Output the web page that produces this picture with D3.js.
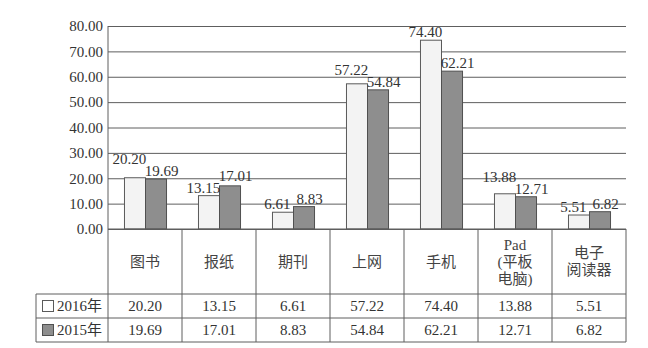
<!DOCTYPE html>
<html>
<head>
<meta charset="utf-8">
<script src="https://cdn.jsdelivr.net/npm/d3@7"></script>
<style>
  body { margin: 0; background: #fff; }
  text { font-family: "Liberation Serif", "Noto Sans CJK SC", serif; }
</style>
</head>
<body>
<div id="chart"></div>
<script>
// data
const categories = ["图书", "报纸", "期刊", "上网", "手机", "Pad\n(平板\n电脑)", "电子\n阅读器"];
const seriesNames = ["2016年", "2015年"];
const values2016 = [20.20, 13.15, 6.61, 57.22, 74.40, 13.88, 5.51];
const values2015 = [19.69, 17.01, 8.83, 54.84, 62.21, 12.71, 6.82];
const yTicks = [0, 10, 20, 30, 40, 50, 60, 70, 80];

const W = 648, H = 348;
const plotLeft = 108, plotRight = 626, plotTop = 26, plotBottom = 229;
const tableLeft = 36, catRowH = 65, rowH = 24;
const fills = ["#f3f3f3", "#8e8e8e"];
const strokes = ["#5a5a5a", "#505050"];
const lineCol = "#5e5e5e";
const textCol = "#333";
const fs = 15;

const svg = d3.select("#chart").append("svg")
  .attr("width", W).attr("height", H);

const x = d3.scaleBand().domain(categories).range([plotLeft, plotRight]);
const x1 = d3.scaleBand().domain(seriesNames).range([0, x.bandwidth()])
  .paddingInner(0).paddingOuter(0.76);
const y = d3.scaleLinear().domain([0, 80]).range([plotBottom, plotTop]);

// grid lines
svg.append("g")
  .attr("transform", "translate(" + plotLeft + ",0)")
  .call(d3.axisLeft(y).tickValues(yTicks).tickSize(-(plotRight - plotLeft)).tickFormat(""))
  .call(g => g.select(".domain").remove())
  .selectAll("line").attr("stroke", lineCol).attr("stroke-width", 1);

// y labels
svg.append("g")
  .attr("transform", "translate(" + plotLeft + ",0)")
  .call(d3.axisLeft(y).tickValues(yTicks).tickSize(0).tickPadding(5).tickFormat(d3.format(".2f")))
  .call(g => g.select(".domain").remove())
  .selectAll("text")
    .attr("font-size", fs).attr("fill", textCol)
    .style("font-family", "Liberation Serif");

const data = categories.map((c, i) => ({ cat: c, vals: [values2016[i], values2015[i]] }));

// bars
const groups = svg.append("g").selectAll("g").data(data).join("g")
  .attr("transform", d => "translate(" + x(d.cat) + ",0)");

groups.selectAll("rect")
  .data(d => d.vals.map((v, k) => ({ key: seriesNames[k], k: k, v: v })))
  .join("rect")
    .attr("x", d => x1(d.key) + 0.5)
    .attr("y", d => y(d.v))
    .attr("width", x1.bandwidth())
    .attr("height", d => plotBottom - y(d.v))
    .attr("fill", d => fills[d.k])
    .attr("stroke", d => strokes[d.k])
    .attr("stroke-width", 1);

// value labels; when the two collide the taller bar's label goes up
const fmt = d3.format(".2f");
data.forEach(d => {
  const gx = x(d.cat);
  const cx0 = gx + x1(seriesNames[0]) + x1.bandwidth() / 2 - 5;
  const cx1 = gx + x1(seriesNames[1]) + x1.bandwidth() / 2 + 6;
  const w0 = fmt(d.vals[0]).length * fs * 0.45;
  const w1 = fmt(d.vals[1]).length * fs * 0.45;
  let y0 = y(d.vals[0]) - 3;
  let y1 = y(d.vals[1]) - 3;
  const overlapX = (cx0 + w0 / 2) > (cx1 - w1 / 2);
  if (overlapX && Math.abs(y0 - y1) < 12) {
    if (d.vals[0] >= d.vals[1]) y0 = Math.min(y0, y1 - 12);
    else y1 = Math.min(y1, y0 - 12);
  }
  svg.append("text").attr("x", cx0).attr("y", y0)
    .attr("text-anchor", "middle").attr("font-size", fs).attr("fill", textCol)
    .text(fmt(d.vals[0]));
  svg.append("text").attr("x", cx1).attr("y", y1)
    .attr("text-anchor", "middle").attr("font-size", fs).attr("fill", textCol)
    .text(fmt(d.vals[1]));
});

// data table
const r0 = plotBottom + catRowH, r1 = r0 + rowH, r2 = r1 + rowH;
const lines = svg.append("g").attr("stroke", lineCol).attr("stroke-width", 1);
lines.append("line").attr("x1", plotLeft).attr("x2", plotRight).attr("y1", plotBottom).attr("y2", plotBottom);
[r0, r1, r2].forEach(yy => lines.append("line")
  .attr("x1", tableLeft).attr("x2", plotRight).attr("y1", yy).attr("y2", yy));
lines.append("line").attr("x1", tableLeft).attr("x2", tableLeft).attr("y1", r0).attr("y2", r2);
lines.append("line").attr("x1", plotLeft).attr("x2", plotLeft).attr("y1", plotTop).attr("y2", r2);
categories.forEach(c => lines.append("line")
  .attr("x1", x(c) + x.bandwidth()).attr("x2", x(c) + x.bandwidth())
  .attr("y1", plotBottom).attr("y2", r2));

// category names
categories.forEach(c => {
  const parts = c.split("\n");
  const lh = 17;
  const cy = (plotBottom + r0) / 2 - (parts.length - 1) * lh / 2;
  const t = svg.append("text")
    .attr("x", x(c) + x.bandwidth() / 2)
    .attr("text-anchor", "middle").attr("font-size", fs).attr("fill", "#444");
  parts.forEach((p, i) => t.append("tspan")
    .attr("x", x(c) + x.bandwidth() / 2)
    .attr("y", cy + i * lh).attr("dy", "0.35em").text(p));
});

// series rows
[values2016, values2015].forEach((vals, k) => {
  const yy = r0 + k * rowH + rowH / 2;
  svg.append("rect")
    .attr("x", tableLeft + 6.5).attr("y", yy - 5.5)
    .attr("width", 11).attr("height", 11)
    .attr("fill", k === 0 ? "#fff" : fills[1]).attr("stroke", strokes[k]);
  svg.append("text").attr("x", tableLeft + 21).attr("y", yy).attr("dy", "0.35em")
    .attr("font-size", fs).attr("fill", textCol).text(seriesNames[k]);
  vals.forEach((v, i) => svg.append("text")
    .attr("x", x(categories[i]) + x.bandwidth() / 2).attr("y", yy).attr("dy", "0.35em")
    .attr("text-anchor", "middle").attr("font-size", fs).attr("fill", textCol)
    .text(fmt(v)));
});
</script>
</body>
</html>
